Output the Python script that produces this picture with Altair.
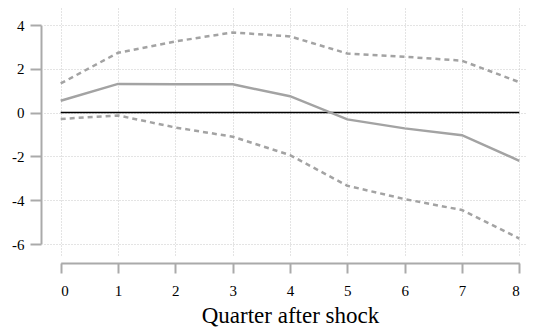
import altair as alt
import pandas as pd

# ---- data ----
quarters = [0, 1, 2, 3, 4, 5, 6, 7, 8]
irf = [0.54, 1.31, 1.29, 1.29, 0.75, -0.31, -0.72, -1.03, -2.20]
upper = [1.33, 2.73, 3.25, 3.66, 3.48, 2.70, 2.55, 2.37, 1.39]
lower = [-0.29, -0.13, -0.68, -1.10, -1.94, -3.34, -3.95, -4.45, -5.75]
y_ticks = [-6, -4, -2, 0, 2, 4]
zero_q = [0, 8]
zero_v = [0, 0]

FONT = "Liberation Serif"
GRAY = "#a3a3a3"
AXGRAY = "#aaaaaa"
GRIDC = "#c9c9c9"

W, H = 482, 248

df = pd.DataFrame({"q": quarters, "irf": irf, "upper": upper, "lower": lower})
long = df.melt("q", var_name="series", value_name="v")
zero = pd.DataFrame({"q": zero_q, "v": zero_v})

# grid layer (full view width/height)
gx = alt.Scale(domain=[-0.291, 8.117], nice=False, zero=False)
gy = alt.Scale(domain=[-6.548, 4.776], nice=False, zero=False)
grid_layer = alt.Chart(long).mark_point(opacity=0).encode(
    x=alt.X("q:Q", scale=gx,
            axis=alt.Axis(values=quarters, grid=True, domain=False, ticks=False,
                          labels=False, title=None, orient="bottom",
                          gridDash=[1, 2], gridColor=GRIDC, gridWidth=1)),
    y=alt.Y("v:Q", scale=gy,
            axis=alt.Axis(values=y_ticks, grid=True, domain=False, ticks=False,
                          labels=False, title=None, orient="left",
                          gridDash=[1, 2], gridColor=GRIDC, gridWidth=1)),
)

# data layer with range-frame axes
xs = alt.Scale(domain=[0, 8], range=[16.7, 475.3], nice=False, zero=False)
ys = alt.Scale(domain=[-6, 4], range=[236, 17], nice=False, zero=False)

x_axis = alt.Axis(values=quarters, orient="bottom", offset=7, grid=False,
                  domainColor=AXGRAY, domainWidth=2, tickColor=AXGRAY, tickWidth=2,
                  tickSize=10, labelPadding=10, labelFont=FONT, labelFontSize=15,
                  labelColor="black", title="Quarter after shock", titleFont=FONT,
                  titleFontSize=23, titleFontWeight="normal", titleColor="black",
                  titlePadding=6)
y_axis = alt.Axis(values=y_ticks, orient="left", offset=3, grid=False,
                  domainColor=AXGRAY, domainWidth=2, tickColor=AXGRAY, tickWidth=2,
                  tickSize=11, labelPadding=6, labelFont=FONT, labelFontSize=15,
                  labelColor="black", title=None,
                  labelExpr="'' + datum.value")

X = alt.X("q:Q", scale=xs, axis=x_axis)
Y = alt.Y("v:Q", scale=ys, axis=y_axis)

ci = alt.Chart(long).transform_filter(
    alt.FieldOneOfPredicate(field="series", oneOf=["upper", "lower"])
).mark_line(color=GRAY, strokeWidth=2.5, strokeDash=[5, 4]).encode(
    x=X, y=Y, detail="series:N")

mean_line = alt.Chart(long).transform_filter(
    alt.FieldEqualPredicate(field="series", equal="irf")
).mark_line(color=GRAY, strokeWidth=2.5).encode(x=X, y=Y)

zero_line = alt.Chart(zero).mark_line(color="black", strokeWidth=1.5).encode(x=X, y=Y)

data_layer = alt.layer(zero_line, ci, mean_line)

chart = alt.layer(grid_layer, data_layer).resolve_scale(
    x="independent", y="independent"
).resolve_axis(x="independent", y="independent").properties(
    width=W, height=H,
    autosize=alt.AutoSizeParams(type="none"),
    padding={"left": 36, "top": 0, "right": 0, "bottom": 71},
    background="white",
).configure_view(stroke=None)

chart.save("out.html", embed_options={"renderer": "svg", "actions": False})
